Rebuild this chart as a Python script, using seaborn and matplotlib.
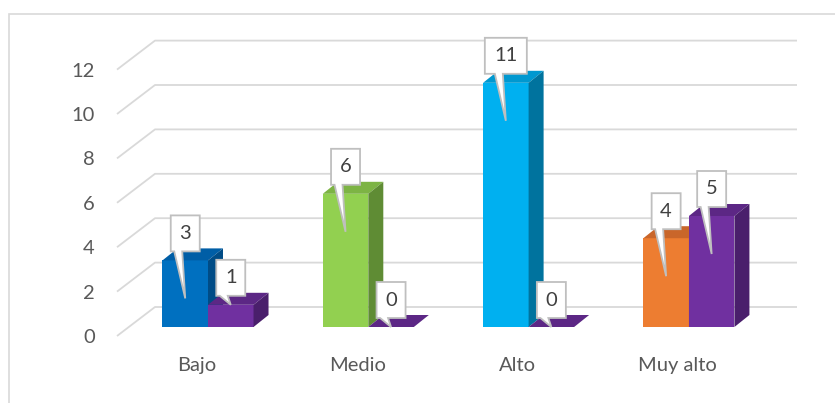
import numpy as np
import pandas as pd
import matplotlib
matplotlib.use("Agg")
import matplotlib.pyplot as plt
import matplotlib.transforms as mtransforms
from matplotlib.patches import Polygon, Rectangle
import seaborn as sns

# datos
categorias = ["Bajo", "Medio", "Alto", "Muy alto"]
serie_1 = [3, 6, 11, 4]
serie_2 = [1, 0, 0, 5]
ticks_y = [0, 2, 4, 6, 8, 10, 12]

# colores (frente, arriba, lado)
colores_1 = [("#0070C0", "#005EA6", "#004C86"),
             ("#92D050", "#7DB444", "#5F8C34"),
             ("#00B0F0", "#0098D0", "#00739E"),
             ("#ED7D31", "#C9662A", "#A95520")]
color_2 = ("#7030A0", "#5C2785", "#4A1F6C")

sns.set_theme(style="white")
plt.rcParams["font.family"] = ["Lato", "DejaVu Sans"]
FS = 14.5

df = pd.DataFrame({
    "categoria": categorias * 2,
    "valor": serie_1 + serie_2,
    "serie": ["s1"] * len(categorias) + ["s2"] * len(categorias),
})

W, H = 835, 403
fig = plt.figure(figsize=(W / 100, H / 100), dpi=100)
PX_X, PX_Y = 160.3, 22.2          # pixeles por unidad de datos
x_left = -91 / PX_X
y_drop = 9 / PX_Y                 # frente del piso
ax = fig.add_axes([117 / W, (H - 336) / H, 678 / W, 13.375 * PX_Y / H])

sns.barplot(data=df, x="categoria", y="valor", hue="serie", order=categorias,
            width=0.568, errorbar=None, legend=False, ax=ax)
ax.set_xlim(x_left, x_left + 678 / PX_X)
ax.set_ylim(-y_drop, 13.375 - y_drop)

# profundidad
ddx, ddy = 15 / PX_X, 12 / PX_Y
wall_dx, wall_dy = 38 / PX_X, 20 / PX_Y
x_end = (797 - 208) / PX_X

for v in ticks_y:
    ax.plot([x_left, x_left + wall_dx, x_end], [v - y_drop, v + wall_dy, v + wall_dy],
            color="#D9D9D9", lw=1.3, clip_on=False, zorder=1, solid_capstyle="butt")

for ci, cont in enumerate(ax.containers):
    for j, rect in enumerate(cont):
        front, top, side = colores_1[j] if ci == 0 else color_2
        x0, w, h = rect.get_x(), rect.get_width(), rect.get_height()
        z = 3 + ci
        rect.set_facecolor(front)
        rect.set_edgecolor("none")
        rect.set_zorder(z)
        ax.add_patch(Polygon([(x0, h), (x0 + w, h), (x0 + w + ddx, h + ddy), (x0 + ddx, h + ddy)],
                             closed=True, facecolor=top, edgecolor="none", zorder=z))
        ax.add_patch(Polygon([(x0 + w, 0), (x0 + w + ddx, ddy), (x0 + w + ddx, h + ddy), (x0 + w, h)],
                             closed=True, facecolor=side, edgecolor="none", zorder=z))

        # etiqueta tipo globo
        txt = f"{h:.0f}"
        tr = mtransforms.Affine2D() + mtransforms.ScaledTranslation(x0 + w / 2, h, ax.transData)
        tip = -38 if h >= 2 else 0
        hw = (16 + 13 * len(txt)) / 2
        xc = 0 if len(txt) == 1 else 0
        verts = [(-hw, 9), (-11, 9), (0, tip), (-3, 9), (hw, 9), (hw, 45), (-hw, 45)]
        ax.add_patch(Polygon(verts, closed=True, transform=tr, facecolor="white",
                             edgecolor="#BFBFBF", lw=1.3, zorder=10, clip_on=False))
        ax.text(xc, 27, txt, transform=tr, ha="center", va="center",
                fontsize=FS, color="#404040", zorder=11)

for s in ax.spines.values():
    s.set_visible(False)
ax.grid(False)
ax.set_xlabel("")
ax.set_ylabel("")
ax.set_yticks([v - y_drop for v in ticks_y])
ax.set_yticklabels([str(v) for v in ticks_y])
ax.set_xticks(np.arange(len(categorias)) - 0.07)
ax.set_xticklabels(categorias)
ax.tick_params(axis="y", length=0, pad=16, labelsize=FS, labelcolor="#595959")
ax.tick_params(axis="x", length=0, pad=15, labelsize=FS, labelcolor="#595959")

# borde del gráfico
fig.add_artist(Rectangle((9 / W, -0.1), 1.2, (H - 14) / H + 0.1, transform=fig.transFigure,
                         facecolor="none", edgecolor="#D9D9D9", lw=1.2))

fig.savefig("out.png", dpi=100, facecolor="white")
